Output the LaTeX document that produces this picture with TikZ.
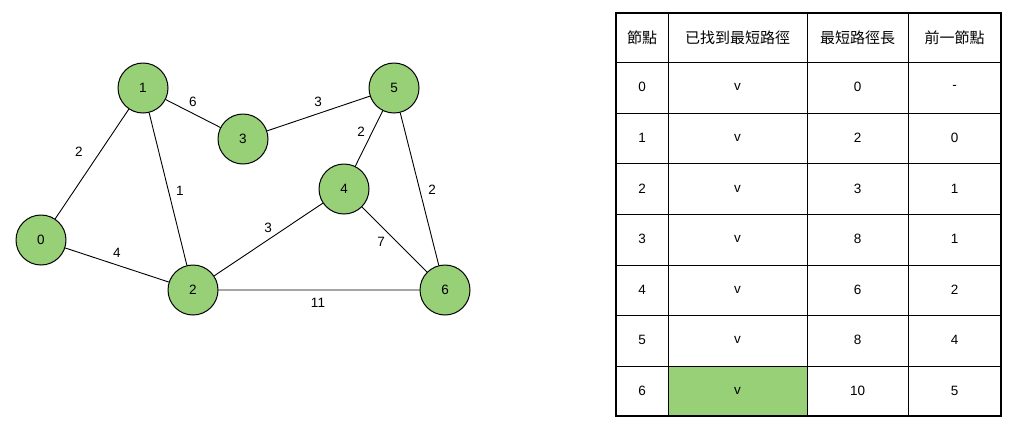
\documentclass[tikz,border=0pt]{standalone}
\usepackage{fontspec}
\setmainfont{Liberation Sans}
\newfontfamily\cjk{Noto Sans CJK TC}
\usetikzlibrary{positioning}
\definecolor{nodegreen}{HTML}{97D077}
\tikzset{
  gv/.style={circle,draw,fill=nodegreen,inner sep=0pt,minimum size=50pt,line width=1pt,
             font=\fontsize{13.5}{16}\selectfont},
  wt/.style={inner sep=0pt,font=\fontsize{13.5}{16}\selectfont},
  cell/.style={inner sep=0pt,font=\fontsize{13.5}{16}\selectfont},
  headcell/.style={inner sep=0pt,font=\cjk\fontsize{15}{18}\selectfont},
  every picture/.style={line cap=round,line join=round}}

\begin{document}
\begin{tikzpicture}[x=1pt,y=-1pt]
  \useasboundingbox (0,0) rectangle (1024,432);
  % graph
  \node[gv] (n0) at (41,240) {0}; \node[gv] (n1) at (143,88) {1}; \node[gv] (n2) at (193,290) {2};
  \node[gv] (n3) at (243,139) {3}; \node[gv] (n4) at (344,189) {4}; \node[gv] (n5) at (394,88) {5};
  \node[gv] (n6) at (445,290) {6};
  \draw[line width=0.9pt] (n0)--(n1) (n0)--(n2) (n1)--(n2) (n1)--(n3) (n3)--(n5)
    (n5)--(n4) (n5)--(n6) (n2)--(n4) (n4)--(n6) (n2)--(n6);
  \node[wt] (w01) at (79,152) {2}; \node[wt] (w02) at (117,253) {4}; \node[wt] (w12) at (180,191) {1};
  \node[wt] (w13) at (193,102) {6}; \node[wt] (w35) at (318,102) {3}; \node[wt] (w54) at (361,132) {2};
  \node[wt] (w56) at (432,190) {2}; \node[wt] (w24) at (268,228) {3}; \node[wt] (w46) at (381,242) {7};
  \node[wt] (w26) at (318,303) {11};
  % table
  \fill[nodegreen] (668,366) rectangle (807,416);
  \foreach \y in {62,113,163,214,265,315,366} \draw[line width=1pt] (616,\y)--(1001,\y);
  \foreach \x in {668,807,908} \draw[line width=1pt] (\x,13)--(\x,416);
  \draw[line width=1.8pt,line join=miter] (616,13) rectangle (1001,416);
  \node[headcell] (h1) at (642,38) {節點};
  \node[headcell] (h2) at (737.5,38) {已找到最短路徑};
  \node[headcell] (h3) at (857.5,38) {最短路徑長};
  \node[headcell] (h4) at (954.5,38) {前一節點};
  \foreach \r/\a/\b/\c [count=\i from 0] in {0/v/0/-,1/v/2/0,2/v/3/1,3/v/8/1,4/v/6/2,5/v/8/4,6/v/10/5}{
    \node[cell] (r\i a) at (642,{87.3+50.57*\i}) {\r};
    \node[cell] (r\i b) at (737.5,{87.3+50.57*\i}) {\a};
    \node[cell] (r\i c) at (857.5,{87.3+50.57*\i}) {\b};
    \node[cell] (r\i d) at (954.5,{87.3+50.57*\i}) {\c};
  }
\end{tikzpicture}
\end{document}
